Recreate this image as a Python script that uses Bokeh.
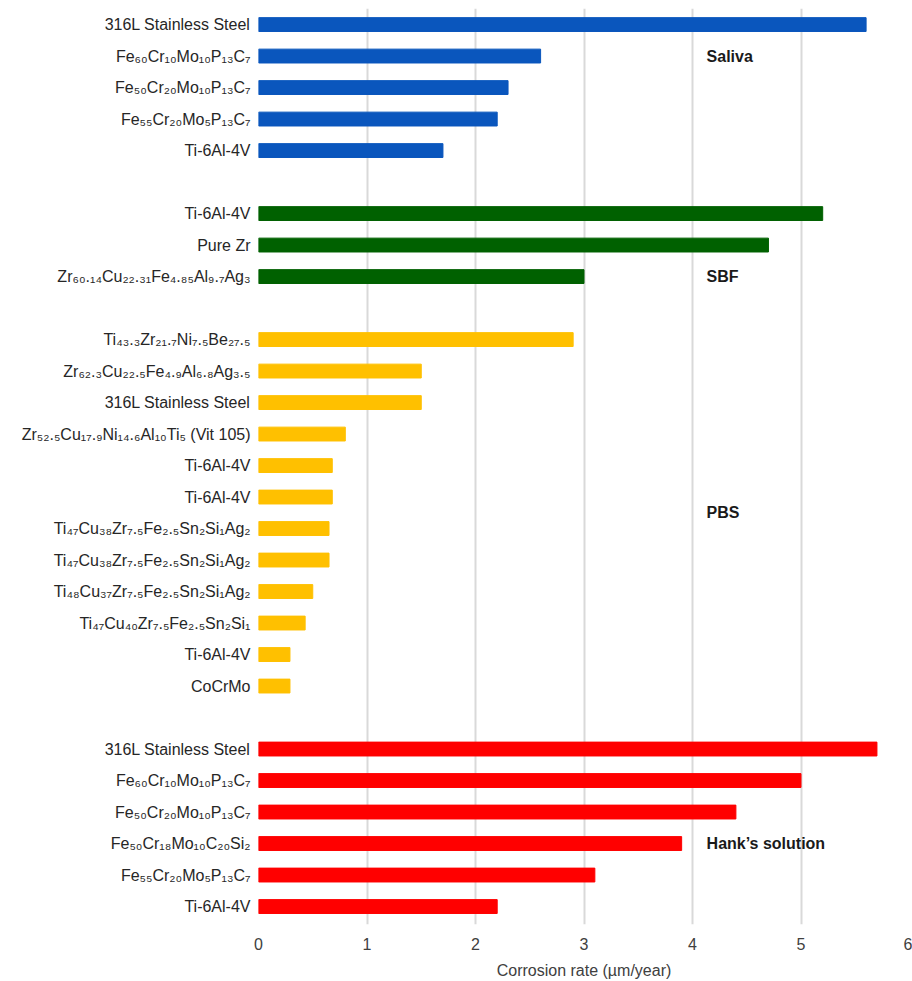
from bokeh.plotting import figure
from bokeh.models import Range1d, FixedTicker, ColumnDataSource
from bokeh.embed import file_html
from bokeh.resources import INLINE
from bokeh.core.properties import value

# ---------------- data ----------------
saliva_labels = ["316L Stainless Steel", "Fe_{60}Cr_{10}Mo_{10}P_{13}C_{7}", "Fe_{50}Cr_{20}Mo_{10}P_{13}C_{7}",
                 "Fe_{55}Cr_{20}Mo_{5}P_{13}C_{7}", "Ti-6Al-4V"]
saliva_values = [5.6, 2.6, 2.3, 2.2, 1.7]

sbf_labels = ["Ti-6Al-4V", "Pure Zr", "Zr_{60.14}Cu_{22.31}Fe_{4.85}Al_{9.7}Ag_{3}"]
sbf_values = [5.2, 4.7, 3.0]

pbs_labels = ["Ti_{43.3}Zr_{21.7}Ni_{7.5}Be_{27.5}", "Zr_{62.3}Cu_{22.5}Fe_{4.9}Al_{6.8}Ag_{3.5}",
              "316L Stainless Steel", "Zr_{52.5}Cu_{17.9}Ni_{14.6}Al_{10}Ti_{5} (Vit 105)",
              "Ti-6Al-4V", "Ti-6Al-4V", "Ti_{47}Cu_{38}Zr_{7.5}Fe_{2.5}Sn_{2}Si_{1}Ag_{2}",
              "Ti_{47}Cu_{38}Zr_{7.5}Fe_{2.5}Sn_{2}Si_{1}Ag_{2}", "Ti_{48}Cu_{37}Zr_{7.5}Fe_{2.5}Sn_{2}Si_{1}Ag_{2}",
              "Ti_{47}Cu_{40}Zr_{7.5}Fe_{2.5}Sn_{2}Si_{1}", "Ti-6Al-4V", "CoCrMo"]
pbs_values = [2.9, 1.5, 1.5, 0.8, 0.68, 0.68, 0.65, 0.65, 0.5, 0.43, 0.29, 0.29]

hank_labels = ["316L Stainless Steel", "Fe_{60}Cr_{10}Mo_{10}P_{13}C_{7}", "Fe_{50}Cr_{20}Mo_{10}P_{13}C_{7}",
               "Fe_{50}Cr_{18}Mo_{10}C_{20}Si_{2}", "Fe_{55}Cr_{20}Mo_{5}P_{13}C_{7}", "Ti-6Al-4V"]
hank_values = [5.7, 5.0, 4.4, 3.9, 3.1, 2.2]

group_names = ["Saliva", "SBF", "PBS", "Hank\u2019s solution"]
group_colors = ["#0a56bd", "#006100", "#ffc000", "#ff0000"]
x_ticks = [0, 1, 2, 3, 4, 5, 6]
x_title = "Corrosion rate (\u00b5m/year)"

# ---------------- helpers ----------------
SUB = str.maketrans("0123456789", "\u2080\u2081\u2082\u2083\u2084\u2085\u2086\u2087\u2088\u2089")


def render(label):
    out = ""
    i = 0
    while i < len(label):
        if label.startswith("_{", i):
            j = label.index("}", i)
            out += label[i + 2:j].translate(SUB)
            i = j + 1
        else:
            out += label[i]
            i += 1
    return out


groups = [(saliva_labels, saliva_values), (sbf_labels, sbf_values),
          (pbs_labels, pbs_values), (hank_labels, hank_values)]

ys, vals, cols, overrides = [], [], [], {}
group_rows = []
row = 0
for (labs, vs), c in zip(groups, group_colors):
    start = row
    for lab, v in zip(labs, vs):
        ys.append(row)
        vals.append(v)
        cols.append(c)
        overrides[row] = render(lab)
        row += 1
    group_rows.append((start, row - 1))
    row += 1  # blank row between groups

src = ColumnDataSource(dict(y=ys, v=vals, c=cols))

p = figure(width=912, height=981, output_backend="svg", toolbar_location=None,
           x_range=Range1d(0, 6), y_range=Range1d(28.57, -0.51),
           min_border_left=258, min_border_right=3, min_border_top=8, min_border_bottom=56)
p.outline_line_color = None

p.hbar(y="y", right="v", left=0, height=0.44, fill_color="c", line_color="c", source=src)

FONT = "Liberation Sans"

# x axis
p.xaxis.ticker = FixedTicker(ticks=x_ticks)
p.xaxis.axis_line_color = None
p.xaxis.major_tick_line_color = None
p.xaxis.minor_tick_line_color = None
p.xaxis.major_label_standoff = 7
p.xaxis.major_label_text_font = FONT
p.xaxis.major_label_text_font_size = "16px"
p.xaxis.major_label_text_color = "#404040"
p.xaxis.axis_label = x_title
p.xaxis.axis_label_text_font = FONT
p.xaxis.axis_label_text_font_size = "16px"
p.xaxis.axis_label_text_font_style = "normal"
p.xaxis.axis_label_text_color = "#404040"
p.xaxis.axis_label_standoff = 9

# y axis
p.yaxis.ticker = FixedTicker(ticks=ys)
p.yaxis.major_label_overrides = overrides
p.yaxis.axis_line_color = None
p.yaxis.major_tick_line_color = None
p.yaxis.minor_tick_line_color = None
p.yaxis.major_label_standoff = 2
p.yaxis.major_label_text_font = FONT
p.yaxis.major_label_text_font_size = "16px"
p.yaxis.major_label_text_color = "#262626"

p.ygrid.grid_line_color = None
p.xgrid.grid_line_color = "#d9d9d9"
p.xgrid.grid_line_width = 2

# group annotations
label_x = 4.13
label_rows = [group_rows[0][0] + 1, group_rows[1][0] + 2,
              (group_rows[2][0] + group_rows[2][1]) / 2, group_rows[3][0] + 3]
p.text(x=[label_x] * 4, y=label_rows, text=group_names,
       text_font=value(FONT), text_font_style="bold", text_font_size="16px",
       text_color="#1a1a1a", text_align="left", text_baseline="middle")

open("out.html", "w").write(file_html(p, INLINE))
